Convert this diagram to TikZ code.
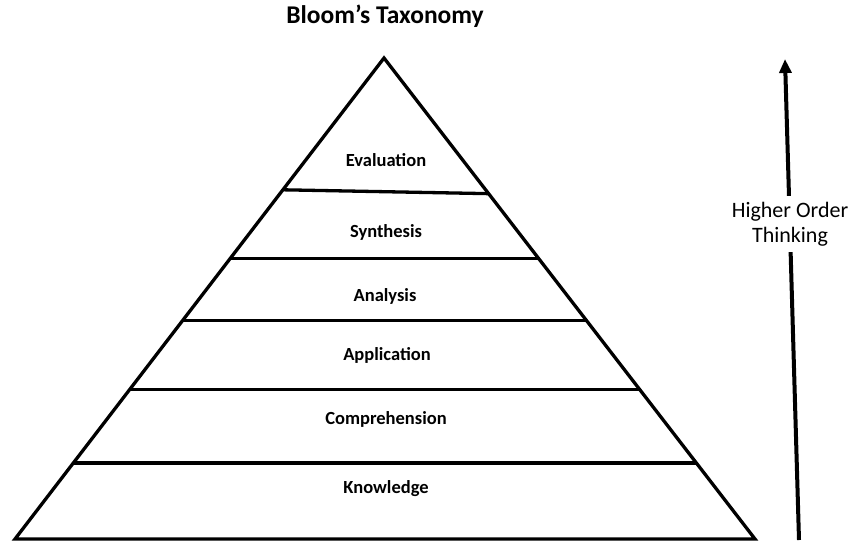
\documentclass[tikz,border=0pt]{standalone}
\usepackage{fontspec}
\setmainfont{Carlito}
\usetikzlibrary{arrows.meta,calc}

\begin{document}
\begin{tikzpicture}[
  x=1pt, y=-1pt,
  edge/.style={line width=3.3pt, line join=miter},
  tier/.style={line width=3.3pt},
  lvl/.style={font=\fontsize{18.5}{20}\selectfont\bfseries, anchor=base,
              inner sep=0pt},
  ttl/.style={font=\fontsize{25.5}{28}\selectfont\bfseries, anchor=base,
              inner sep=0pt},
  hot/.style={font=\fontsize{22}{25}\selectfont, align=center, fill=white,
              inner xsep=2pt, inner ysep=6pt},
  up/.style={-{Triangle[length=14pt, width=12pt]}, line width=4pt}
]
\useasboundingbox (0,0) rectangle (849,542);

% ---------------- title ----------------
\node[ttl] (title) at (385,23) {Bloom’s Taxonomy};

% ---------------- pyramid ----------------
\coordinate (apex) at (384,58);
\coordinate (bl) at (15,539);
\coordinate (br) at (755,539);
\draw[edge] (bl) -- (apex) -- (br) -- cycle;

\draw[tier] ($(apex)!0.274!(bl)$) -- ($(apex)!0.282!(br)$);
\draw[tier] ($(apex)!0.417!(bl)$) -- ($(apex)!0.417!(br)$);
\draw[tier] ($(apex)!0.546!(bl)$) -- ($(apex)!0.546!(br)$);
\draw[tier] ($(apex)!0.689!(bl)$) -- ($(apex)!0.689!(br)$);
\draw[tier] ($(apex)!0.842!(bl)$) -- ($(apex)!0.842!(br)$);

% ---------------- levels ----------------
\node[lvl] (eval)  at (386,166) {Evaluation};
\node[lvl] (synth) at (386,237) {Synthesis};
\node[lvl] (anal)  at (385,301) {Analysis};
\node[lvl] (appl)  at (387,360) {Application};
\node[lvl] (comp)  at (386,424) {Comprehension};
\node[lvl] (know)  at (386,493) {Knowledge};

% ---------------- arrow ----------------
\coordinate (low) at (799,540);
\coordinate (high) at (785,59);
\draw[up] (low) -- (high);
\node[hot] (think) at (790,224) {Higher Order\\Thinking};
\end{tikzpicture}
\end{document}
